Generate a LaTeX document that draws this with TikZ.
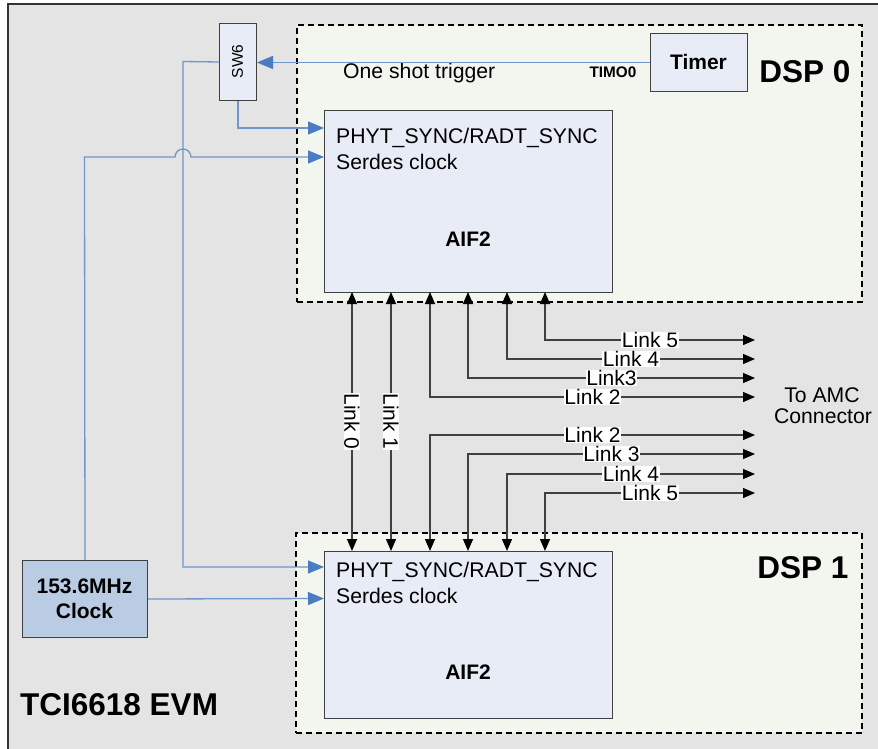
\documentclass[tikz,border=0pt]{standalone}
\usepackage{fontspec}
\setmainfont{Liberation Sans}
\usetikzlibrary{arrows.meta}
\definecolor{bggray}{HTML}{E4E4E4}
\definecolor{dspfill}{HTML}{F3F5EF}
\definecolor{aiffill}{HTML}{E7ECF6}
\definecolor{clockfill}{HTML}{B9CCE4}
\definecolor{blueln}{HTML}{7096CA}
\definecolor{bluetip}{HTML}{4A7CC4}
\definecolor{linkln}{HTML}{404040}
\tikzset{
  dspbox/.style={draw=black, line width=1.6bp, dash pattern=on 6bp off 4bp, fill=dspfill, inner sep=0pt, anchor=north west},
  aifbox/.style={draw=black!75, line width=1bp, fill=aiffill, inner sep=0pt, anchor=north west},
  smallbox/.style={draw=black!75, line width=1bp, fill=aiffill, inner sep=0pt, anchor=north west},
  clockbox/.style={draw=black!75, line width=1bp, fill=clockfill, inner sep=0pt, anchor=north west},
  blueline/.style={draw=blueln, line width=1.3bp},
  bluearrow/.style={blueline, -{Triangle[length=16bp,width=13bp,color=bluetip]}},
  linkarrow/.style={draw=linkln, line width=1.3bp, {Triangle[length=12bp,width=10bp,color=black]}-{Triangle[length=12bp,width=10bp,color=black]}},
  txt/.style={inner sep=0pt, font=\fontsize{21.2bp}{25bp}\selectfont},
  btxt/.style={inner sep=0pt, font=\fontsize{21bp}{25bp}\selectfont\bfseries},
  bigtxt/.style={inner sep=0pt, font=\fontsize{31.5bp}{36bp}\selectfont\bfseries},
  lbl/.style={fill=white, inner sep=0.5bp, font=\fontsize{21bp}{25bp}\selectfont},
}
\begin{document}
\begin{tikzpicture}[x=1bp, y=-1bp]
\useasboundingbox (0,0) rectangle (878,749);
\fill[white] (0,0) rectangle (878,749);
\fill[bggray] (8,4) rectangle (878,749);
\draw[black!80, line width=1.5bp] (8,749) -- (8,4) -- (878,4);

% DSP containers
\node[dspbox, minimum width=565bp, minimum height=277bp] (dsp0) at (296,24) {};
\node[dspbox, minimum width=566bp, minimum height=200bp] (dsp1) at (295,532) {};

% AIF2 blocks
\node[aifbox, minimum width=288bp, minimum height=182bp] (aif0) at (324,110) {};
\node[aifbox, minimum width=288bp, minimum height=167bp] (aif1) at (324,551) {};

% small boxes
\node[smallbox, minimum width=37bp, minimum height=77bp] (sw6) at (219,23) {};
\node[rotate=90, inner sep=0pt, font=\fontsize{15.5bp}{18bp}\selectfont] (sw6t) at (237.5,61.5) {SW6};
\node[smallbox, minimum width=97bp, minimum height=58bp] (timer) at (650,33) {};
\node[btxt, anchor=base] (timert) at (698.5,70) {Timer};
\node[clockbox, minimum width=125bp, minimum height=77bp] (clock) at (22,560) {};
\node[btxt, anchor=base] (clockt1) at (84.5,593) {153.6MHz};
\node[btxt, anchor=base] (clockt2) at (84.5,618) {Clock};

% texts
\node[bigtxt, anchor=base] (dsp0t) at (805,83) {DSP 0};
\node[bigtxt, anchor=base] (dsp1t) at (803,578) {DSP 1};
\node[bigtxt, anchor=base west] (evm) at (20,715) {TCI6618 EVM};
\node[txt, anchor=base west] (oneshot) at (343,79) {One shot trigger};
\node[inner sep=0pt, anchor=base, font=\fontsize{15.3bp}{18bp}\selectfont\bfseries] (timo) at (613,78) {TIMO0};
\node[txt, anchor=base west] (p0) at (336,143) {PHYT\_SYNC/RADT\_SYNC};
\node[txt, anchor=base west] (s0) at (336,169) {Serdes clock};
\node[btxt, anchor=base] (a0t) at (468,246) {AIF2};
\node[txt, anchor=base west] (p1) at (336,577) {PHYT\_SYNC/RADT\_SYNC};
\node[txt, anchor=base west] (s1) at (336,603) {Serdes clock};
\node[btxt, anchor=base] (a1t) at (468,679) {AIF2};
\node[txt, anchor=base] (amc1) at (822,402) {To AMC};
\node[txt, anchor=base] (amc2) at (823,423) {Connector};

% port coordinates
\coordinate (a0p) at (324,128);
\coordinate (a0s) at (324,157);
\coordinate (a1p) at (324,567);
\coordinate (a1s) at (324,598.5);
\coordinate (swbus) at (183,61.5);
\coordinate (clkbus) at (84.5,157);

% blue connections
\draw[bluearrow] (timer.west) -- (timer.west -| sw6.east);
\draw[bluearrow] (sw6.south) |- (a0p);
\draw[bluearrow] (sw6.west) -- (swbus) |- (a1p);
\draw[bluearrow] (clock.north) -- (clkbus) -- (175,157) arc[start angle=180, end angle=0, radius=8bp] -- (a0s);
\draw[bluearrow] (clock.east) -- (a1s);

% link coordinates
\foreach \i/\x in {0/352,1/391,2/430,3/468,4/507,5/545}{
  \coordinate (t\i) at (\x,292);
  \coordinate (b\i) at (\x,551);
}
\coordinate (eu5) at (755,340);
\coordinate (eu4) at (755,359);
\coordinate (eu3) at (755,378);
\coordinate (eu2) at (755,397);
\coordinate (ed2) at (755,435);
\coordinate (ed3) at (755,454);
\coordinate (ed4) at (755,474);
\coordinate (ed5) at (755,493);

\draw[linkarrow] (t0) -- (b0) node[lbl, midway, rotate=-90] {Link 0};
\draw[linkarrow] (t1) -- (b1) node[lbl, midway, rotate=-90] {Link 1};

\draw[linkarrow] (t5) |- (eu5) node[lbl, pos=0.75] {Link 5};
\draw[linkarrow] (t4) |- (eu4) node[lbl, pos=0.75] {Link 4};
\draw[linkarrow] (t3) |- (eu3) node[lbl, pos=0.75] {Link3};
\draw[linkarrow] (t2) |- (eu2) node[lbl, pos=0.75] {Link 2};

\draw[linkarrow] (b2) |- (ed2) node[lbl, pos=0.75] {Link 2};
\draw[linkarrow] (b3) |- (ed3) node[lbl, pos=0.75] {Link 3};
\draw[linkarrow] (b4) |- (ed4) node[lbl, pos=0.75] {Link 4};
\draw[linkarrow] (b5) |- (ed5) node[lbl, pos=0.75] {Link 5};
\end{tikzpicture}
\end{document}
